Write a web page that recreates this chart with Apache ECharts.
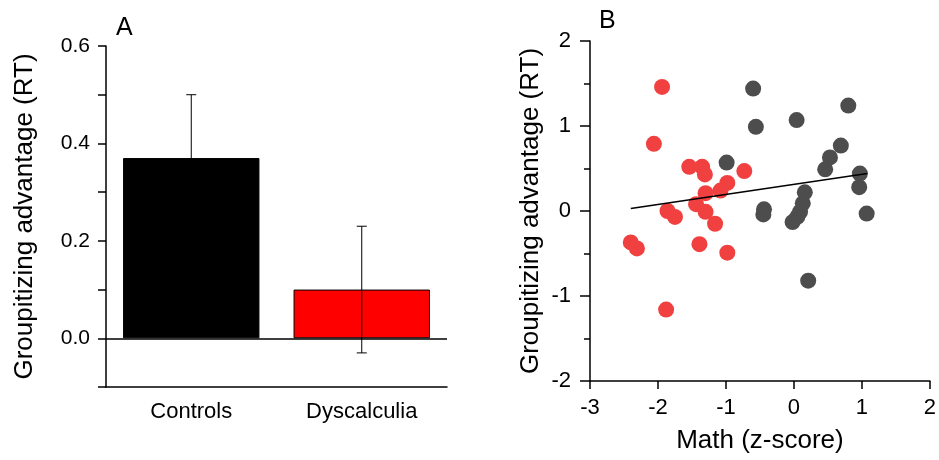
<!DOCTYPE html>
<html>
<head>
<meta charset="utf-8">
<script src="https://cdn.jsdelivr.net/npm/echarts@6/dist/echarts.min.js"></script>
<style>
  html, body { margin: 0; padding: 0; background: #fff; }
  #chart { width: 939px; height: 460px; }
</style>
</head>
<body>
<div id="chart"></div>
<script>
  // panel A: group means with error bars
  var groups = ['Controls', 'Dyscalculia'];
  var groupMeans = [0.37, 0.10];
  var groupErr = [0.13, 0.13];
  var groupColors = ['#000000', '#ff0000'];
  var labelledTicksA = [0, 0.2, 0.4, 0.6];

  // panel B: math z-score vs groupitizing advantage
  var controlsX = [-0.60, -0.56, -0.99, -0.44, -0.45, 0.04, 0.80, 0.69, 0.53, 0.46, 0.97, 0.96, 0.16, 0.13, 0.09, 0.05, -0.02, 1.07, 0.21];
  var controlsY = [1.44, 0.99, 0.57, 0.02, -0.04, 1.07, 1.24, 0.77, 0.63, 0.49, 0.44, 0.28, 0.22, 0.09, -0.01, -0.07, -0.13, -0.03, -0.82];
  var dyscX = [-1.94, -2.06, -1.54, -1.35, -1.31, -0.73, -0.98, -1.08, -1.30, -1.44, -1.30, -1.86, -1.75, -1.16, -2.40, -2.31, -1.39, -0.98, -1.88];
  var dyscY = [1.46, 0.79, 0.52, 0.52, 0.43, 0.47, 0.33, 0.24, 0.21, 0.08, -0.01, 0.00, -0.07, -0.15, -0.37, -0.44, -0.39, -0.49, -1.16];
  var fitX = [-2.40, 1.08];
  var fitY = [0.03, 0.44];

  var font = 'Liberation Sans, Arial, sans-serif';
  var axisColor = { color: '#000', width: 1.5 };

  function pairs(xs, ys) {
    return xs.map(function (x, i) { return [x, ys[i]]; });
  }

  var chart = echarts.init(document.getElementById('chart'));
  chart.setOption({
    animation: false,
    textStyle: { fontFamily: font },
    title: [
      { text: 'A', left: 111, top: 11, textStyle: { fontSize: 25, fontWeight: 'normal', color: '#000', fontFamily: font } },
      { text: 'B', left: 594, top: 4, textStyle: { fontSize: 25, fontWeight: 'normal', color: '#000', fontFamily: font } }
    ],
    grid: [
      { left: 106, top: 46, width: 341, height: 341 },
      { left: 590, top: 41, width: 340, height: 340 }
    ],
    xAxis: [
      {
        type: 'category',
        gridIndex: 0,
        data: groups,
        axisLine: { onZero: false, lineStyle: axisColor },
        axisTick: { alignWithLabel: true, length: 10, lineStyle: axisColor },
        axisLabel: { color: '#000', fontSize: 22, margin: 14 },
        splitLine: { show: false }
      },
      {
        type: 'value',
        gridIndex: 1,
        min: -3,
        max: 2,
        interval: 1,
        name: 'Math (z-score)',
        nameLocation: 'middle',
        nameGap: 47,
        nameTextStyle: { fontSize: 26, color: '#000' },
        axisLine: { onZero: false, lineStyle: axisColor },
        axisTick: { length: 8, lineStyle: axisColor },
        axisLabel: { color: '#000', fontSize: 22, margin: 16 },
        splitLine: { show: false }
      }
    ],
    yAxis: [
      {
        type: 'value',
        gridIndex: 0,
        min: -0.1,
        max: 0.6,
        interval: 0.1,
        name: 'Groupitizing advantage (RT)',
        nameLocation: 'middle',
        nameGap: 68,
        nameTextStyle: { fontSize: 26, color: '#000' },
        axisLine: { show: true, lineStyle: axisColor },
        axisTick: { show: true, length: 8, lineStyle: axisColor },
        axisLabel: {
          color: '#000', fontSize: 21, margin: 16,
          formatter: function (v) {
            var r = Math.round(v * 10) / 10;
            return labelledTicksA.indexOf(r) >= 0 ? r.toFixed(1) : '';
          }
        },
        splitLine: { show: false }
      },
      {
        type: 'value',
        gridIndex: 1,
        min: -2,
        max: 2,
        interval: 1,
        name: 'Groupitizing advantage (RT)',
        nameLocation: 'middle',
        nameGap: 46,
        nameTextStyle: { fontSize: 26, color: '#000' },
        axisLine: { show: true, onZero: false, lineStyle: axisColor },
        axisTick: { show: true, length: 10, lineStyle: axisColor },
        minorTick: { show: true, splitNumber: 2, length: 6, lineStyle: axisColor },
        axisLabel: { color: '#000', fontSize: 22, margin: 19 },
        splitLine: { show: false }
      }
    ],
    series: [
      {
        type: 'bar',
        xAxisIndex: 0,
        yAxisIndex: 0,
        barCategoryGap: '20%',
        data: groupMeans.map(function (v, i) {
          return { value: v, itemStyle: { color: groupColors[i], borderColor: '#000', borderWidth: 1 } };
        }),
        markLine: {
          silent: true,
          symbol: 'none',
          label: { show: false },
          lineStyle: { color: '#000', type: 'solid', width: 1.5 },
          data: [{ yAxis: 0 }]
        }
      },
      {
        type: 'custom',
        xAxisIndex: 0,
        yAxisIndex: 0,
        data: groupMeans.map(function (v, i) { return [i, v - groupErr[i], v + groupErr[i]]; }),
        renderItem: function (params, api) {
          var lo = api.coord([api.value(0), api.value(1)]);
          var hi = api.coord([api.value(0), api.value(2)]);
          var w = 5;
          var style = { stroke: '#000', lineWidth: 1 };
          return {
            type: 'group',
            children: [
              { type: 'line', shape: { x1: hi[0], y1: hi[1], x2: lo[0], y2: lo[1] }, style: style },
              { type: 'line', shape: { x1: hi[0] - w, y1: hi[1], x2: hi[0] + w, y2: hi[1] }, style: style },
              { type: 'line', shape: { x1: lo[0] - w, y1: lo[1], x2: lo[0] + w, y2: lo[1] }, style: style }
            ]
          };
        },
        z: 5
      },
      {
        type: 'scatter',
        xAxisIndex: 1,
        yAxisIndex: 1,
        symbolSize: 16,
        itemStyle: { color: '#4d4d4d', opacity: 1 },
        data: pairs(controlsX, controlsY)
      },
      {
        type: 'scatter',
        xAxisIndex: 1,
        yAxisIndex: 1,
        symbolSize: 16,
        itemStyle: { color: '#f04040', opacity: 1 },
        data: pairs(dyscX, dyscY)
      },
      {
        type: 'line',
        xAxisIndex: 1,
        yAxisIndex: 1,
        symbol: 'none',
        lineStyle: { color: '#000', width: 1.5 },
        data: pairs(fitX, fitY),
        z: 10
      }
    ]
  });
</script>
</body>
</html>
